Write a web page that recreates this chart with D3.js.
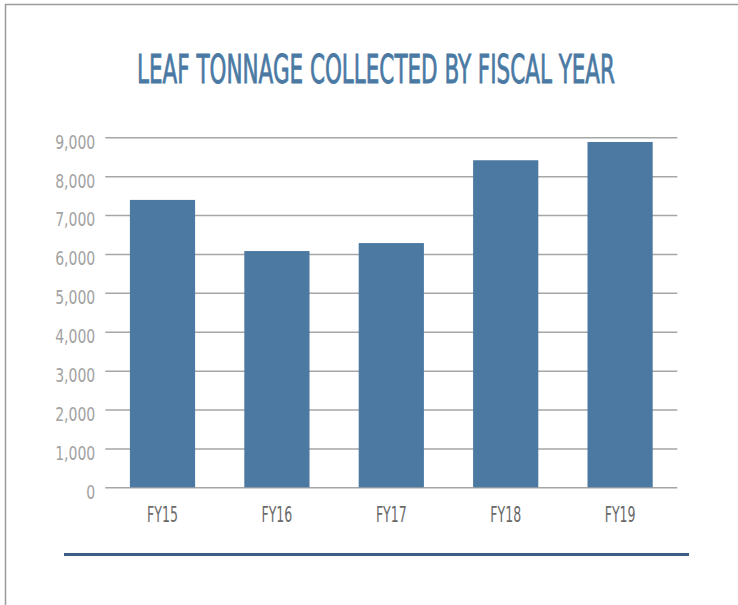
<!DOCTYPE html>
<html>
<head>
<meta charset="utf-8">
<script src="https://cdn.jsdelivr.net/npm/d3@7"></script>
<style>
  body { margin: 0; background: #fff; }
  text { font-family: "Liberation Sans Narrow", "DejaVu Sans Condensed", sans-serif; }
</style>
</head>
<body>
<script>
const years = ["FY15", "FY16", "FY17", "FY18", "FY19"];
const tonnage = [7390, 6075, 6280, 8410, 8880];
const yTicks = [0, 1000, 2000, 3000, 4000, 5000, 6000, 7000, 8000, 9000];
const title = "LEAF TONNAGE COLLECTED BY FISCAL YEAR";

const W = 738, H = 605;
const plot = { left: 105.3, right: 677.3, top: 137.3, bottom: 487.3 };

// squeeze text horizontally to mimic the narrow face of the original
function squeeze(sel, k) {
    sel.each(function () {
        const w = this.getComputedTextLength();
        d3.select(this)
            .attr("textLength", w * k)
            .attr("lengthAdjust", "spacingAndGlyphs");
    });
}

const svg = d3.select("body").append("svg")
    .attr("width", W)
    .attr("height", H);

// frame (top and left edges only visible)
svg.append("path")
    .attr("d", `M5.5,${H} V4.5 H${W}`)
    .attr("fill", "none")
    .attr("stroke", "#9a9a9a")
    .attr("stroke-width", 1.5);

svg.append("text")
    .attr("x", 376)
    .attr("y", 83)
    .attr("text-anchor", "middle")
    .attr("textLength", 478)
    .attr("lengthAdjust", "spacingAndGlyphs")
    .attr("font-size", 39)
    .attr("fill", "#4a79a3")
    .attr("stroke", "#4a79a3")
    .attr("stroke-width", 0.8)
    .text(title);

const x = d3.scaleBand()
    .domain(years)
    .range([plot.left, plot.right])
    .paddingInner(0.43)
    .paddingOuter(0.215);

const y = d3.scaleLinear()
    .domain([0, 9000])
    .range([plot.bottom, plot.top]);

const yAxis = d3.axisLeft(y)
    .tickValues(yTicks)
    .tickFormat(d3.format(","))
    .tickSizeInner(-(plot.right - plot.left))
    .tickSizeOuter(0)
    .tickPadding(10);

const gy = svg.append("g")
    .attr("transform", `translate(${plot.left},0)`)
    .call(yAxis);
gy.select(".domain").remove();
gy.selectAll(".tick line")
    .attr("stroke", "#a6a6a6")
    .attr("stroke-width", 1.5);
gy.selectAll(".tick text")
    .attr("fill", "#a3a3a3")
    .attr("font-size", 19.5)
    .attr("dy", "0.56em")
    .call(squeeze, 0.8);

svg.append("g")
    .selectAll("rect")
    .data(tonnage)
    .join("rect")
    .attr("x", (d, i) => x(years[i]))
    .attr("y", d => y(d))
    .attr("width", x.bandwidth())
    .attr("height", d => y(0) - y(d))
    .attr("fill", "#4b79a1");

const xAxis = d3.axisBottom(x).tickSize(0).tickPadding(0);
const gx = svg.append("g")
    .attr("transform", `translate(0,${plot.bottom})`)
    .call(xAxis);
gx.select(".domain").remove();
gx.selectAll(".tick text")
    .attr("fill", "#6a6a6a")
    .attr("font-size", 20.5)
    .attr("dy", 0)
    .attr("y", 34.7)
    .call(squeeze, 0.68);

svg.append("line")
    .attr("x1", 64)
    .attr("x2", 689)
    .attr("y1", 554.5)
    .attr("y2", 554.5)
    .attr("stroke", "#3b5e84")
    .attr("stroke-width", 3);
</script>
</body>
</html>
